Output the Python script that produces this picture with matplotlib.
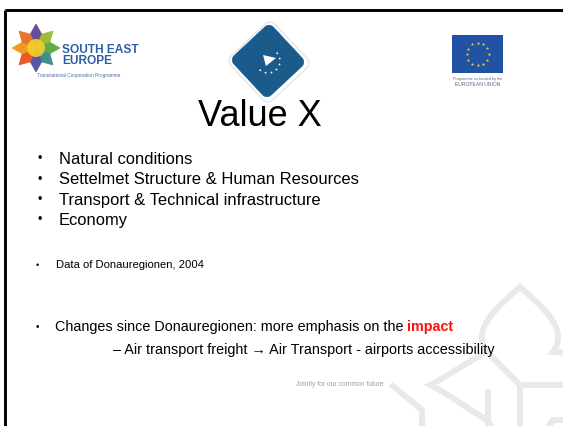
import numpy as np
import matplotlib.pyplot as plt
from matplotlib.patches import Polygon, Circle, Rectangle, PathPatch
from matplotlib.path import Path

plt.rcParams['font.family'] = ['Liberation Sans', 'DejaVu Sans']

# slide texts
title = "Value X"
main_bullets = ["Natural conditions",
                "Settelmet Structure & Human Resources",
                "Transport & Technical infrastructure",
                "Economy"]
data_bullet = "Data of Donauregionen, 2004"
changes_text = "Changes since Donauregionen: more emphasis on the "
changes_hl = "impact"
sub_item = "\u2013 Air transport freight \u2192 Air Transport - airports accessibility"
footer = "Jointly for our common future"

see_name = "SOUTH EAST\nEUROPE"
see_sub = "Transnational Cooperation Programme"
eu_lines = ["Programme co-funded by the", "EUROPEAN UNION"]

# star petal colours of the SEE logo (from top, clockwise)
star_colors = ["#6b4c9a", "#9dbd3a", "#5fae45", "#3f8f8a",
               "#5a55a0", "#e85a2a", "#f39a1e", "#e8762a"]

W, H = 563, 426
fig = plt.figure(figsize=(W / 100, H / 100), dpi=100)
ax = fig.add_axes([0, 0, 1, 1])
ax.set_xlim(0, W)
ax.set_ylim(H, 0)
ax.axis("off")

# ---- watermark (light grey outline flower, bottom right)
wm = "#e9e9e9"
verts = [(487, 352),
         (470, 328), (500, 305), (520, 287),
         (540, 305), (570, 328), (553, 352),
         (600, 352), (620, 385), (630, 400),
         (600, 420), (560, 420), (553, 420),
         (540, 440), (530, 460), (520, 483),
         (510, 460), (500, 440), (487, 420),
         (470, 410), (450, 395), (430, 385),
         (450, 375), (470, 360), (487, 352)]
codes = [Path.MOVETO] + [Path.CURVE4] * 24
ax.add_patch(PathPatch(Path(verts, codes), fill=False, ec=wm, lw=4.3, zorder=0))
ax.plot([520, 520], [385, 430], color=wm, lw=4.3, zorder=0)
ax.plot([520, 570], [385, 385], color=wm, lw=4.3, zorder=0)
ax.plot([487, 520], [352, 385], color=wm, lw=4.3, zorder=0)
ax.plot([393, 422, 422], [386, 410, 430], color=wm, lw=4.3, zorder=0)
ax.plot([488, 488], [392, 430], color=wm, lw=4.3, zorder=0)

# ---- slide border (top and left)
ax.plot([4.7, W], [9.7, 9.7], color="black", lw=2.1, solid_capstyle="butt")
ax.plot([4.7, 4.7], [9.7, H], color="black", lw=2.1, solid_capstyle="butt")

# ---- SEE logo
cx, cy, r_out, r_in = 36, 48, 24, 15
for i, col in enumerate(star_colors):
    a = np.pi / 2 - i * np.pi / 4
    a1 = a - np.pi / 8
    a2 = a + np.pi / 8
    pts = [(cx, cy),
           (cx + r_in * np.cos(a1), cy - r_in * np.sin(a1)),
           (cx + r_out * np.cos(a), cy - r_out * np.sin(a)),
           (cx + r_in * np.cos(a2), cy - r_in * np.sin(a2))]
    ax.add_patch(Polygon(pts, closed=True, fc=col, ec=col, lw=0.5))
ax.add_patch(Circle((cx, cy), 9, fc="#f4cf2a", ec="none", alpha=0.9))
ax.text(62, 64, see_name, fontsize=8.6, fontweight="bold", color="#2c5fa8",
        ha="left", va="baseline", linespacing=0.9)
ax.text(37, 75, see_sub, fontsize=3.4, color="#4a6ea8", ha="left", va="center")

# ---- central diamond logo
dcx, dcy, half = 268, 61, 27
t = np.linspace(0, np.pi / 2, 8)
rc = 6
sq = []
for k, (sx, sy) in enumerate([(1, 1), (-1, 1), (-1, -1), (1, -1)]):
    ox, oy = sx * (half - rc), sy * (half - rc)
    ang = t + k * np.pi / 2
    sq += list(zip(ox + rc * np.cos(ang), oy + rc * np.sin(ang)))
sq = np.array(sq)
rot = np.deg2rad(47)
R = np.array([[np.cos(rot), -np.sin(rot)], [np.sin(rot), np.cos(rot)]])
outer = (sq * 1.12) @ R.T + [dcx + 1, dcy + 1]
inner = sq @ R.T + [dcx, dcy]
ax.add_patch(Polygon(outer, closed=True, fc="white", ec="#d0d8e0", lw=0.6))
ax.add_patch(Polygon(inner, closed=True, fc="#1b5b8c", ec="#1b5b8c", lw=0.5))
ax.add_patch(Polygon([(263, 55), (276, 58), (266, 66)], closed=True, fc="white", ec="none"))
for a in np.linspace(-40, 130, 7):
    ar = np.deg2rad(a)
    ax.add_patch(Circle((dcx + 12 * np.cos(ar), dcy + 12 * np.sin(ar)), 0.9, fc="white", ec="none"))

# ---- EU flag
ax.add_patch(Rectangle((452, 35), 51, 38, fc="#2152a3", ec="none"))
for a in np.arange(12) * 30:
    ar = np.deg2rad(a)
    ax.plot(477.5 + 11 * np.cos(ar), 54 + 11 * np.sin(ar), marker="*", ms=2.6,
            color="#f2d22a", mec="none")
ax.text(478, 79, eu_lines[0], fontsize=2.8, color="#5a6a90", ha="center", va="center")
ax.text(478, 85, eu_lines[1], fontsize=3.6, color="#5a6a90", ha="center", va="center")

# ---- title
ax.text(260, 116, title, fontsize=26, color="black", ha="center", va="center")

# ---- main bullets
ys = [159, 180, 200, 220]
for y, s in zip(ys, main_bullets):
    ax.text(40, y, "\u2022", fontsize=9, ha="center", va="center")
    ax.text(59, y, s, fontsize=11.9, ha="left", va="center")

ax.text(37, 265, "\u2022", fontsize=6.5, ha="center", va="center")
ax.text(56, 265, data_bullet, fontsize=8.1, ha="left", va="center")

ax.text(37, 327, "\u2022", fontsize=7, ha="center", va="center")
t1 = ax.text(55, 327, changes_text, fontsize=10.4, ha="left", va="center")
ax.annotate(changes_hl, xy=(1, 0), xycoords=t1, fontsize=10.4, fontweight="bold",
            color="#ff1010", ha="left", va="bottom")
ax.text(113, 350, sub_item, fontsize=10.4, ha="left", va="center")

ax.text(340, 385, footer, fontsize=4.9, color="#a0a0a0", ha="center", va="center")

fig.savefig("out.png", dpi=100)
